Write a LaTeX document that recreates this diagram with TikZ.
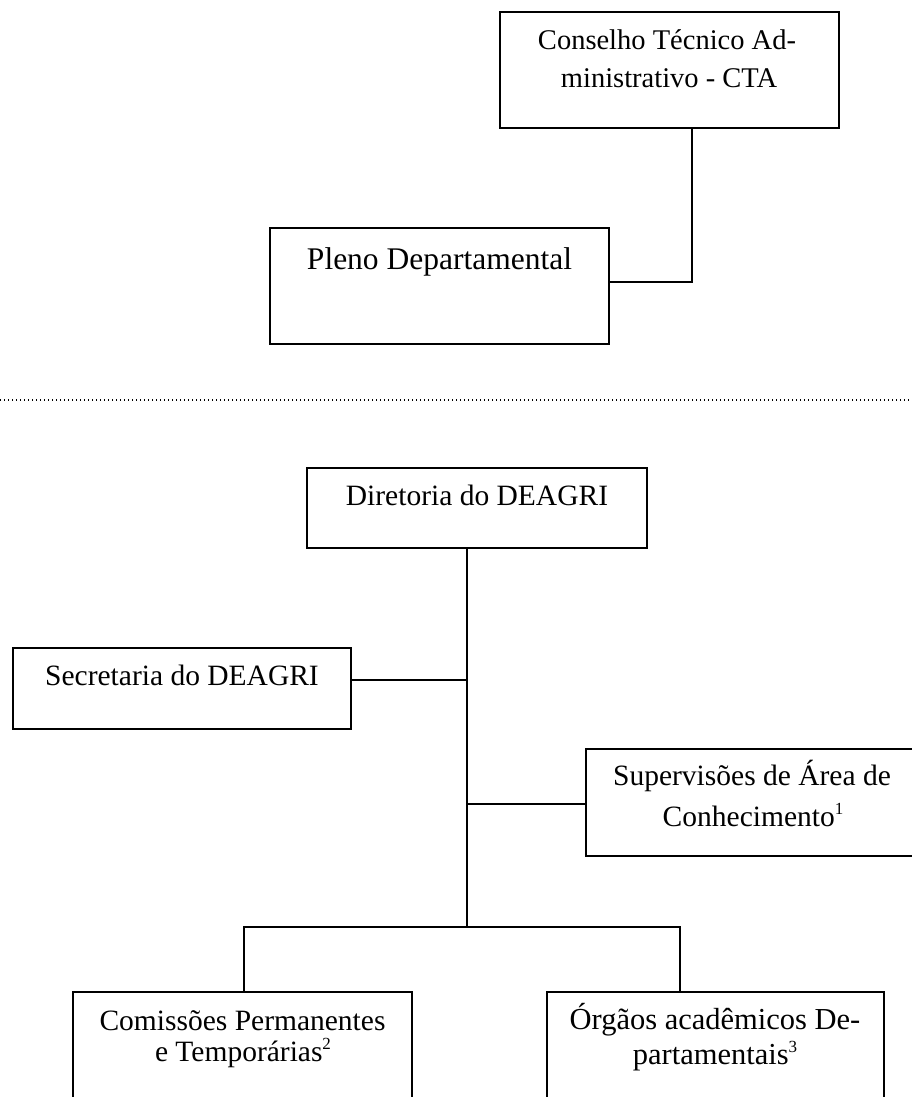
\documentclass[tikz,border=0pt]{standalone}
\usepackage{fontspec}
\setmainfont{Liberation Serif}
\newcommand{\mysupnum}[1]{\raisebox{12pt}{\fontsize{17}{17}\selectfont\smash{#1}}}
\begin{document}
\begin{tikzpicture}[x=1pt,y=-1pt,
  box/.style={draw=black, line width=1.9pt, rectangle, inner sep=0pt},
  lbl/.style={anchor=base, inner sep=0pt, text=black, font=\fontsize{29.5}{35}\selectfont},
  conn/.style={draw=black, line width=1.9pt},
  sepline/.style={draw=black, line width=1.4pt, dash pattern=on 1.4pt off 2.6pt}]
\useasboundingbox (0,0) rectangle (912,1097);
\clip (0,0) rectangle (912,1097);
% boxes
\node[box, minimum width=339pt, minimum height=116pt] (cta) at (669.5,70) {};
\node[box, minimum width=339pt, minimum height=116pt] (pleno) at (439.5,286) {};
\node[box, minimum width=340pt, minimum height=80pt] (dir) at (477,508) {};
\node[box, minimum width=338pt, minimum height=81pt] (sec) at (182,688.5) {};
\node[box, minimum width=339pt, minimum height=107pt] (sup) at (755.5,802.5) {};
\node[box, minimum width=339pt, minimum height=116pt] (com) at (242.5,1050) {};
\node[box, minimum width=337pt, minimum height=116pt] (org) at (715.5,1050) {};
% texts
\node[lbl, font=\fontsize{28.5}{34}\selectfont] (ctaA) at (667,50) {Conselho Técnico Ad-};
\node[lbl, font=\fontsize{28.5}{34}\selectfont] (ctaB) at (669,88) {ministrativo - CTA};
\node[lbl, font=\fontsize{31.5}{38}\selectfont] (plenoA) at (439.5,269) {Pleno Departamental};
\node[lbl] (dirA) at (477,505.5) {Diretoria do DEAGRI};
\node[lbl] (secA) at (182,685) {Secretaria do DEAGRI};
\node[lbl] (supA) at (752,785) {Supervisões de Área de};
\node[lbl] (supB) at (753,826) {Conhecimento\mysupnum{1}};
\node[lbl] (comA) at (242.5,1030) {Comissões Permanentes};
\node[lbl] (comB) at (243,1061) {e Temporárias\mysupnum{2}};
\node[lbl, font=\fontsize{30.5}{36}\selectfont] (orgA) at (715,1029) {Órgãos acadêmicos De-};
\node[lbl, font=\fontsize{30.5}{36}\selectfont] (orgB) at (715,1064) {partamentais\mysupnum{3}};
% connectors
\coordinate (j1) at (692,282);
\draw[conn] (cta.south -| j1) -- (j1) -- (j1 -| pleno.east);
\coordinate (trunk) at (467,927);
\coordinate (secj) at (467,680);
\coordinate (supj) at (467,804);
\coordinate (barL) at (244,927);
\coordinate (barR) at (680,927);
\draw[conn] (dir.south -| trunk) -- (trunk);
\draw[conn] (sec.east |- secj) -- (secj);
\draw[conn] (supj) -- (supj -| sup.west);
\draw[conn] (com.north -| barL) -- (barL) -- (barR) -- (org.north -| barR);
% separator
\coordinate (dl) at (0,400);
\coordinate (dr) at (912,400);
\draw[sepline] (dl) -- (dr);
\end{tikzpicture}
\end{document}
